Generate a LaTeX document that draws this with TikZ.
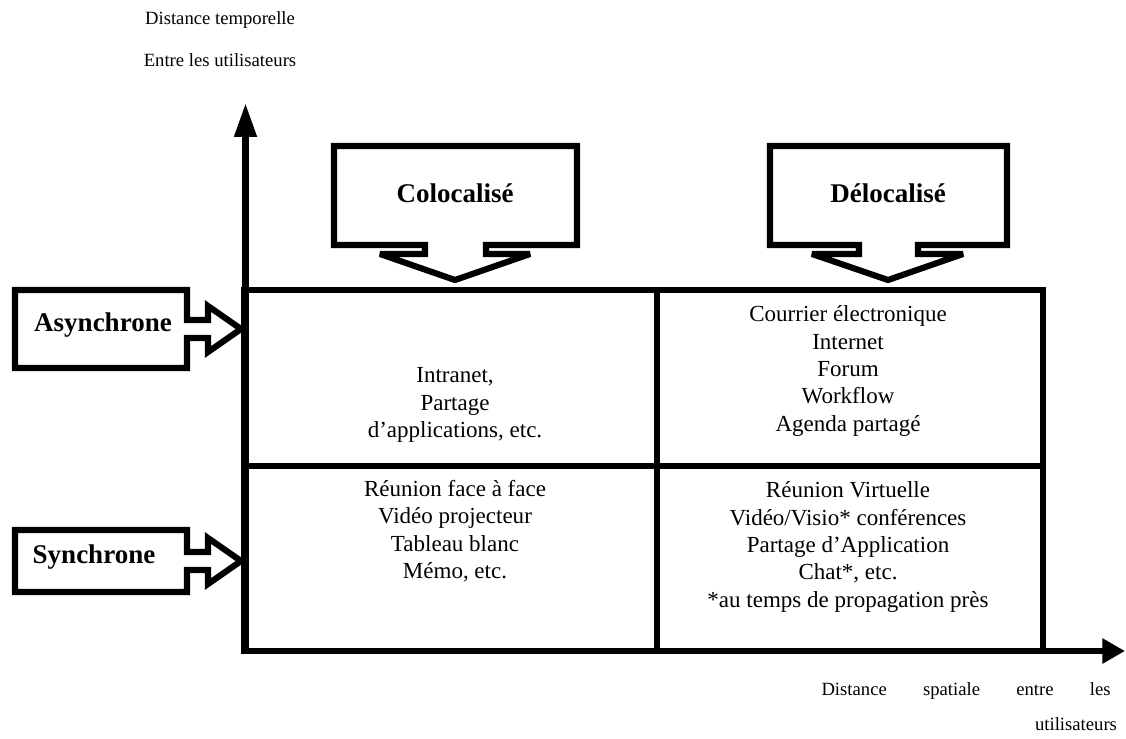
\documentclass[tikz,border=0pt]{standalone}
\usepackage{fontspec}
\setmainfont{Liberation Serif}
\usetikzlibrary{arrows.meta}
\begin{document}
\begin{tikzpicture}[x=0.75pt,y=-0.75pt,
  thick line/.style={line width=4.6pt, line join=miter, miter limit=4},
  axis/.style={line width=5pt},
  callout/.style={draw, line width=4.6pt, line join=miter, miter limit=4},
  body/.style={font=\fontsize{17.25}{20.6}\selectfont, align=center, inner sep=0pt},
  lbl/.style={font=\fontsize{20.25}{24}\selectfont\bfseries, inner sep=0pt},
  axislbl/.style={font=\fontsize{14}{17}\selectfont, inner sep=0pt, anchor=base}]
\useasboundingbox (0,0) rectangle (1126,738);

% grid
\draw[thick line] (244,290) rectangle (1043,651);
\draw[thick line] (244,466) -- (1043,466);
\draw[thick line] (657,290) -- (657,651);

% axes
\coordinate (O) at (245.5,653);
\coordinate (ytip) at (245.5,103);
\coordinate (xo) at (242,651);
\coordinate (xtip) at (1125,651);
\draw[axis, -{Triangle[length=25.5pt,width=16pt]}] (O) -- (ytip);
\draw[axis, -{Triangle[length=17pt,width=18pt]}] (xo) -- (xtip);

% callouts top
\draw[callout] (425,254) -- (425,245) -- (334,245) -- (334,146) -- (577,146) -- (577,245)
  -- (486,245) -- (486,254) -- (530,254) -- (455,280) -- (380,254) -- cycle;
\draw[callout] (859,254) -- (859,245) -- (770,245) -- (770,146) -- (1007,146) -- (1007,245)
  -- (918,245) -- (918,254) -- (963,254) -- (888,280) -- (812,254) -- cycle;
% callouts left
\draw[callout] (187,320) -- (208,320) -- (208,306) -- (241,329) -- (208,352) -- (208,338)
  -- (187,338) -- (187,368) -- (15,368) -- (15,290) -- (187,290) -- cycle;
\draw[callout] (187,552) -- (208,552) -- (208,538) -- (241,561) -- (208,584) -- (208,570)
  -- (187,570) -- (187,592) -- (15,592) -- (15,530) -- (187,530) -- cycle;

\node[lbl] (coloc) at (455,193) {Colocalisé};
\node[lbl] (deloc) at (888,193) {Délocalisé};
\node[lbl] (async) at (103,325) {Asynchrone};
\node[lbl] (sync) at (94,557) {Synchrone};

% cell texts
\node[body] (c11) at (455,405) {Intranet,\\Partage\\d’applications, etc.};
\node[body] (c12) at (848,371) {Courrier électronique\\Internet\\Forum\\Workflow\\Agenda partagé};
\node[body] (c21) at (455,531) {Réunion face à face\\Vidéo projecteur\\Tableau blanc\\Mémo, etc.};
\node[body] (c22) at (848,547) {Réunion Virtuelle\\Vidéo/Visio* conférences\\Partage d’Application\\Chat*, etc.\\*au temps de propagation près};

% axis labels
\node[axislbl] (yl1) at (220,25) {Distance temporelle};
\node[axislbl] (yl2) at (220,67) {Entre les utilisateurs};
\node[axislbl] (xl1) at (966,695) {\makebox[216.75pt][s]{Distance\hfill spatiale\hfill entre\hfill les}};
\node[axislbl] (xl2) at (1076,730) {utilisateurs};
\end{tikzpicture}
\end{document}
